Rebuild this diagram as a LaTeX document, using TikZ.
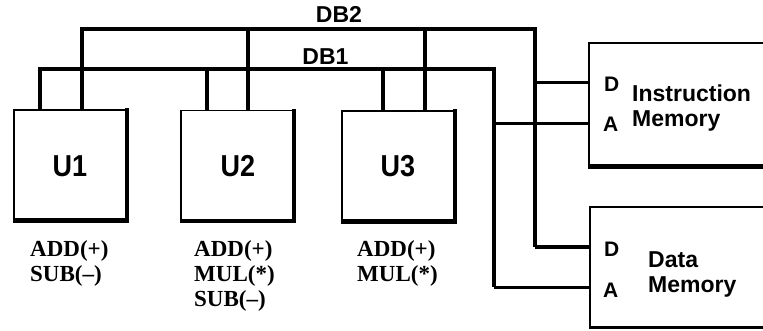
\documentclass[tikz,border=0pt]{standalone}
\usepackage{fontspec}
\setmainfont{Liberation Serif}
\setsansfont{Liberation Sans}
\begin{document}
\begin{tikzpicture}[x=1pt,y=-1pt,
  unitbox/.style={draw, line width=1.5pt, minimum width=112pt, minimum height=110pt, inner sep=0pt},
  membox/.style={draw, line width=1.5pt, minimum width=215pt, inner sep=0pt},
  shadowline/.style={line width=4.5pt},
  bus/.style={line width=4pt},
  stub/.style={line width=3.5pt},
  sig/.style={line width=3pt},
  unitlabel/.style={font=\sffamily\bfseries\fontsize{27}{30}\selectfont},
  buslabel/.style={anchor=base, inner sep=0pt, font=\sffamily\bfseries\fontsize{23}{26}\selectfont},
  memlabel/.style={anchor=base west, inner sep=0pt, font=\sffamily\bfseries\fontsize{23}{26}\selectfont},
  portlabel/.style={anchor=base west, inner sep=0pt, font=\sffamily\bfseries\fontsize{21}{24}\selectfont},
  oplabel/.style={anchor=base west, inner sep=0pt, font=\rmfamily\bfseries\fontsize{23}{25}\selectfont}
]
\useasboundingbox (0,0) rectangle (763,331);
\clip (0,0) rectangle (763,331);
\fill[white] (0,0) rectangle (763,331);

% unit boxes
\node[unitbox] (U1) at (70,165) {};
\node[unitbox] (U2) at (237,165.5) {};
\node[unitbox] (U3) at (398,166) {};
\foreach \u in {U1,U2,U3}{
  \draw[shadowline] ([yshift=0.75pt]\u.north east) -- (\u.south east) -- ([xshift=-0.75pt]\u.south west);
}
\node[unitlabel] (U1t) at (70,166) {\scalebox{1}[1.12]{U1}};
\node[unitlabel] (U2t) at (238,166) {\scalebox{1}[1.12]{U2}};
\node[unitlabel] (U3t) at (398,166) {\scalebox{1}[1.12]{U3}};

% memory boxes
\node[membox, minimum height=123pt] (im) at (696.5,104.5) {};
\draw[shadowline] ([xshift=-0.75pt]im.south west) -- (im.south east);
\node[membox, minimum height=120pt] (dm) at (697.5,267) {};
\draw[line width=2.2pt] (dm.south west) -- (dm.south east);

% ports
\coordinate (imD) at (im.west |- 0,83);
\coordinate (imA) at (im.west |- 0,124);
\coordinate (dmD) at (dm.west |- 0,247);
\coordinate (dmA) at (dm.west |- 0,287);

% bus corners
\coordinate (b2L) at (82,29);
\coordinate (b2R) at (535,29);
\coordinate (b1L) at (40,69);
\coordinate (b1R) at (494,69);

% DB2
\draw[bus] (U1.north -| b2L) -- (b2L) -- (b2R) -- (b2R |- dmD);
\draw[sig] (b2R |- dmD) -- (dmD);
\draw[sig] (b2R |- imD) -- (imD);
% DB1
\draw[bus] (U1.north -| b1L) -- (b1L) -- (b1R) -- (b1R |- dmA);
\draw[sig] (b1R |- dmA) -- (dmA);
\draw[sig] (b1R |- imA) -- (imA);

% stubs
\draw[stub] (U2.north -| 207,0) -- (207,0 |- b1L);
\draw[stub] (U2.north -| 248,0) -- (248,0 |- b2L);
\draw[stub] (U3.north -| 383,0) -- (383,0 |- b1L);
\draw[stub] (U3.north -| 425,0) -- (425,0 |- b2L);

% bus labels
\node[buslabel] (db2) at (339,23) {DB2};
\node[buslabel] (db1) at (325.5,65) {DB1};

% memory labels
\node[portlabel] (imDl) at (604,92) {D};
\node[portlabel] (imAl) at (603,132) {A};
\node[memlabel] (imt1) at (632,102) {Instruction};
\node[memlabel] (imt2) at (632,127) {Memory};
\node[portlabel] (dmDl) at (604,257) {D};
\node[portlabel] (dmAl) at (603,297) {A};
\node[memlabel] (dmt1) at (648,267) {Data};
\node[memlabel] (dmt2) at (648,292) {Memory};

% operation labels
\node[oplabel] (o11) at (30,256) {ADD(+)};
\node[oplabel] (o12) at (30,281) {SUB(\textendash)};
\node[oplabel] (o21) at (194,256) {ADD(+)};
\node[oplabel] (o22) at (194,281) {MUL(*)};
\node[oplabel] (o23) at (194,306) {SUB(\textendash)};
\node[oplabel] (o31) at (357,256) {ADD(+)};
\node[oplabel] (o32) at (357,281) {MUL(*)};
\end{tikzpicture}
\end{document}
